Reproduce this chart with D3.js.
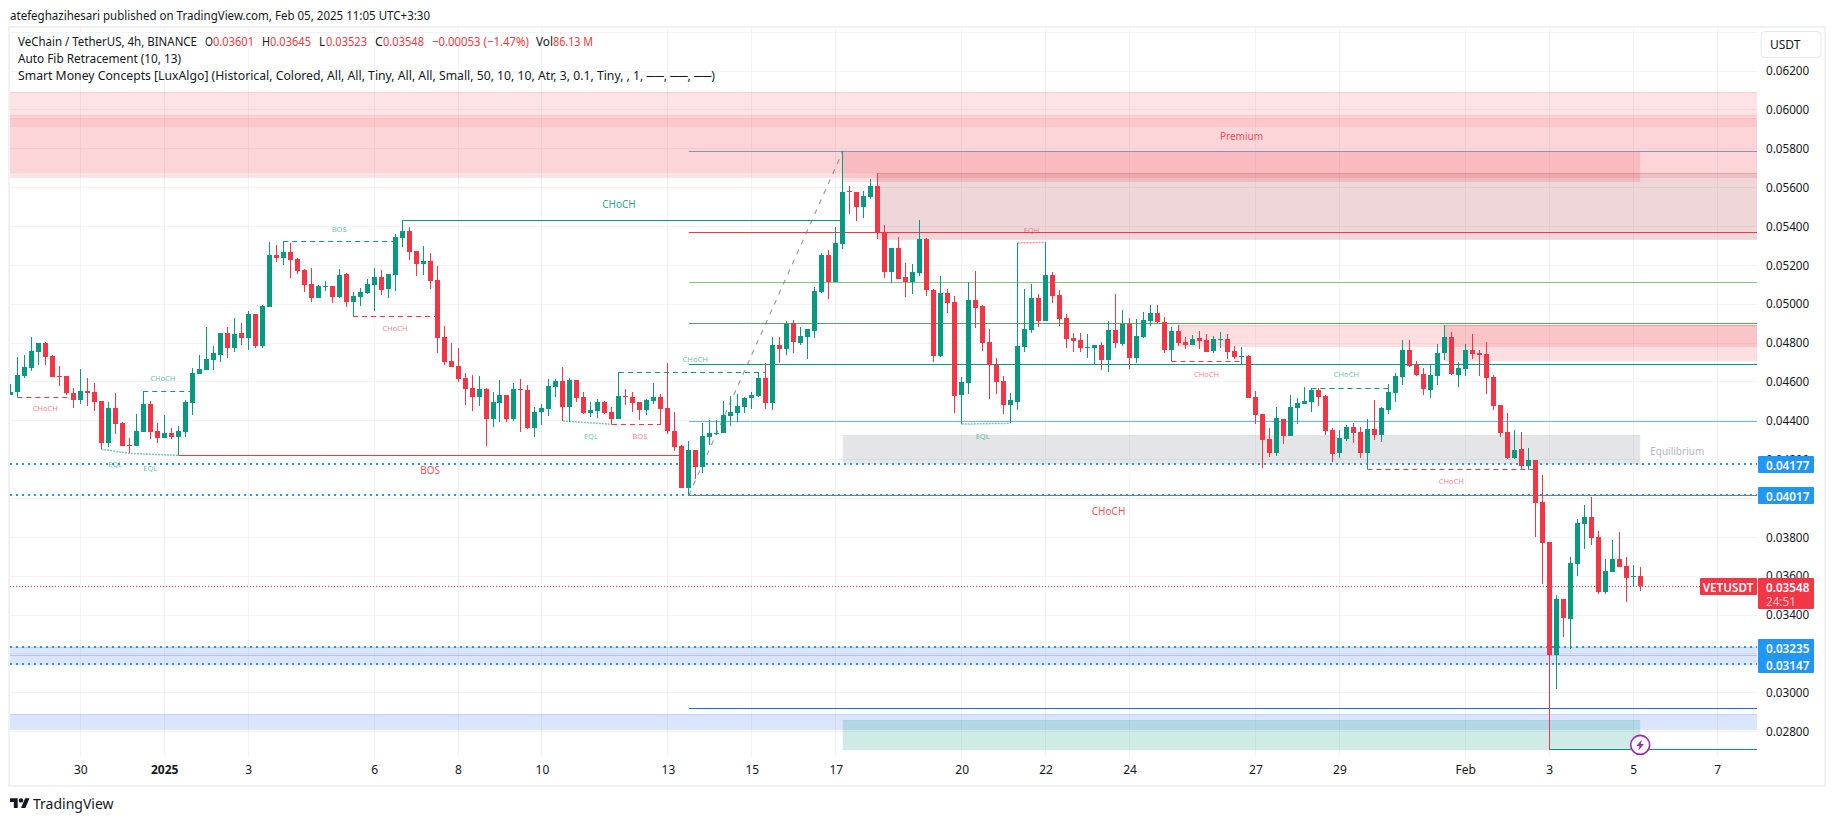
<!DOCTYPE html>
<html><head><meta charset="utf-8">
<script src="https://cdn.jsdelivr.net/npm/d3@7/dist/d3.min.js"></script>
<style>
html,body{margin:0;padding:0;background:#fff;width:1835px;height:821px;overflow:hidden}
svg{display:block}
text{font-family:"Noto Sans",sans-serif}
</style></head><body>
<svg id="c" width="1835" height="821"></svg>
<script>
// All prices in units of 0.00001 USDT
const PRICE_UNIT = 1e-5;
const opens = [
4532,4548,4630,4671,4754,4800,4733,4630,4630,4543,
4507,4553,4548,4501,4285,4465,4388,4275,4270,4342,
4486,4347,4311,4337,4316,4342,4491,4640,4661,4712,
4738,4851,4774,4851,4826,4949,4784,4985,5253,5238,
5268,5232,5176,5104,5032,5090,5094,5037,5155,5011,
5037,5058,5099,5140,5078,5150,5340,5376,5274,5207,
5222,5124,4831,4708,4682,4620,4569,4522,4564,4409,
4492,4533,4409,4564,4558,4363,4445,4461,4574,4605,
4471,4610,4522,4440,4450,4497,4445,4409,4528,4522,
4497,4456,4502,4522,4466,4348,4270,4054,4250,4162,
4317,4334,4337,4425,4440,4471,4517,4527,4620,4491,
4790,4769,4903,4800,4831,4862,5062,5253,5114,5309,
5582,5577,5500,5551,5608,5371,5165,5289,5140,5114,
5160,5335,5073,4733,5057,5011,4533,4594,5021,4990,
4805,4687,4605,4481,4497,4780,4867,5032,4913,5150,
5047,4929,4826,4816,4776,4774,4790,4712,4867,4795,
4898,4723,4831,4913,4954,4908,4764,4862,4805,4790,
4826,4815,4759,4817,4820,4759,4730,4733,4522,4435,
4306,4234,4409,4321,4465,4486,4496,4558,4527,4352,
4234,4306,4368,4342,4234,4357,4327,4455,4543,4625,
4764,4687,4640,4558,4630,4748,4831,4635,4666,4764,
4748,4743,4625,4481,4342,4208,4254,4167,4198,3982,
3776,3195,3483,3380,3663,3869,3905,3802,3519,3622,
3689,3653,3598,3601];
const highs = [
4589,4728,4738,4831,4802,4805,4738,4682,4630,4568,
4666,4620,4594,4501,4496,4543,4393,4311,4435,4551,
4500,4388,4429,4363,4373,4507,4671,4738,4882,4784,
4851,4882,4928,4903,4965,4949,4995,5320,5304,5323,
5315,5238,5181,5186,5099,5119,5094,5181,5160,5063,
5083,5130,5186,5176,5155,5361,5431,5397,5274,5299,
5263,5196,4888,4800,4775,4646,4636,4630,4569,4548,
4610,4533,4594,4615,4584,4471,4486,4615,4615,4677,
4620,4610,4548,4497,4512,4502,4471,4649,4564,4548,
4497,4512,4594,4538,4696,4445,4275,4296,4250,4389,
4404,4404,4502,4527,4538,4522,4548,4651,4696,4831,
4831,4913,4918,4882,4872,5088,5263,5279,5397,5786,
5608,5577,5582,5644,5675,5407,5289,5345,5212,5207,
5433,5340,5078,5145,5078,5042,4625,5114,5171,4996,
4872,4723,4630,4543,5315,5078,5104,5052,5318,5165,
5073,4949,4852,4852,4846,4790,4805,4913,5052,4970,
4928,4923,4959,4995,4995,4934,4882,4892,4831,4841,
4862,4846,4836,4856,4846,4784,4779,4738,4553,4435,
4363,4471,4409,4532,4517,4573,4567,4567,4532,4363,
4352,4378,4388,4368,4409,4507,4471,4589,4646,4815,
4815,4707,4671,4692,4795,4892,4856,4702,4795,4846,
4764,4805,4635,4481,4440,4352,4342,4260,4198,4121,
3776,3504,3483,3699,3895,3967,4008,3833,3689,3787,
3828,3699,3658,3645];
const lows = [
4532,4520,4620,4656,4687,4687,4625,4579,4532,4465,
4486,4476,4450,4254,4265,4332,4270,4232,4270,4342,
4306,4285,4311,4306,4222,4316,4429,4640,4661,4661,
4702,4723,4754,4790,4764,4774,4774,4985,5217,5202,
5135,5155,5063,5011,5032,5068,5006,5032,4985,4937,
4991,5052,4965,5047,5032,5068,5294,5227,5145,5150,
5078,4749,4687,4677,4600,4481,4450,4476,4270,4368,
4394,4394,4399,4342,4358,4317,4378,4425,4522,4399,
4394,4497,4435,4420,4414,4435,4382,4409,4481,4445,
4404,4430,4486,4382,4332,4245,4054,4018,4100,4131,
4275,4327,4337,4373,4394,4440,4460,4524,4460,4455,
4697,4738,4749,4790,4718,4826,5057,5026,5114,5284,
5464,5428,5443,5541,5335,5135,5109,5129,5037,5052,
5145,5042,4702,4728,4954,4440,4383,4538,4877,4759,
4512,4538,4435,4387,4455,4754,4852,4882,4913,5006,
4888,4774,4754,4754,4723,4692,4661,4651,4774,4784,
4666,4697,4826,4887,4898,4748,4706,4784,4769,4790,
4769,4754,4748,4774,4718,4718,4692,4517,4383,4157,
4213,4218,4280,4321,4383,4486,4445,4476,4327,4188,
4208,4296,4285,4208,4150,4301,4291,4435,4496,4584,
4676,4630,4532,4517,4584,4712,4635,4573,4630,4718,
4630,4537,4455,4316,4203,4203,4152,4146,3802,3560,
2706,3020,3288,3226,3601,3740,3761,3509,3509,3622,
3648,3468,3545,3523];
const closes = [
4548,4635,4676,4759,4800,4728,4625,4627,4543,4507,
4553,4543,4496,4285,4465,4383,4270,4272,4347,4486,
4342,4311,4337,4316,4347,4496,4646,4666,4718,4748,
4851,4774,4846,4826,4949,4784,4990,5253,5238,5268,
5227,5171,5099,5032,5094,5094,5037,5150,5011,5042,
5063,5104,5140,5073,5155,5346,5376,5268,5207,5222,
5119,4826,4702,4677,4615,4564,4522,4564,4409,4497,
4533,4409,4564,4560,4363,4445,4466,4579,4605,4471,
4610,4517,4440,4456,4497,4440,4409,4528,4524,4492,
4456,4507,4522,4461,4348,4265,4054,4250,4162,4322,
4337,4337,4430,4445,4476,4517,4533,4620,4491,4790,
4769,4898,4805,4836,4872,5068,5253,5114,5315,5577,
5577,5500,5556,5608,5371,5165,5289,5129,5114,5165,
5335,5073,4733,5057,5006,4527,4600,5021,4980,4800,
4687,4600,4481,4507,4785,4872,5032,4913,5150,5042,
4924,4821,4810,4774,4780,4790,4712,4867,4800,4898,
4723,4836,4918,4954,4908,4764,4862,4800,4790,4820,
4810,4754,4820,4820,4754,4728,4733,4517,4429,4301,
4234,4414,4321,4471,4491,4501,4558,4522,4347,4229,
4311,4368,4337,4234,4357,4327,4465,4548,4630,4764,
4682,4635,4563,4635,4748,4831,4640,4671,4764,4743,
4738,4620,4476,4337,4208,4249,4167,4198,3977,3771,
3195,3483,3385,3668,3874,3905,3797,3519,3627,3689,
3648,3591,3601,3548];

const gridPrices = [6400,6200,6000,5800,5600,5400,5200,5000,4800,4600,4400,4200,4000,3800,3600,3400,3200,3000,2800];
const priceTicks = [6200,6000,5800,5600,5400,5200,5000,4800,4600,4400,4200,4000,3800,3600,3400,3200,3000,2800];
// day of each date tick, counted from 30 Dec (six 4h candles per day, 30 Dec is candle 10)
const timeTickDays = [0,2,4,7,9,11,14,16,18,21,23,25,28,30,33,35,37,39];
const timeTickLabels = ["30","2025","3","6","8","10","13","15","17","20","22","24","27","29","Feb","3","5","7"];
const FIRST_INDEX = -0.05, LAST_INDEX = 249.7;

// zones: [from candle, to candle, upper price, lower price]
const premiumWide = [[FIRST_INDEX,LAST_INDEX,6090,5656]];
const premiumInner = [[FIRST_INDEX,LAST_INDEX,5972,5682],[FIRST_INDEX,LAST_INDEX,5958,5918]];
const supplyZones = [[119,233,5787,5634],[167,LAST_INDEX,4891,4786],[205,LAST_INDEX,4891,4714]];
const darkSupplyZones = [[124,LAST_INDEX,5675,5337]];
const equilibriumZones = [[119,233,4327,4178]];
const discountZones = [[119,233,2860,2706]];
const blueZones = [[FIRST_INDEX,LAST_INDEX,3235,3197],[FIRST_INDEX,LAST_INDEX,3197,3147],[FIRST_INDEX,LAST_INDEX,2892,2815]];
// fib levels [price, kind]
const fibLevels = [[5787,"slate"],[5370,"red"],[5113,"lgreen"],[4902,"green"],[4691,"teal"],[4397,"lblue"],[2920,"blue"],[4017,"grey"]];
const FIB_FROM = 97;
const fibDiagonal = [[97,4017],[119,5786]];
const dottedLevels = [4177,4017,3235,3147];
// structure: [from, to, price, side]
const solidLines = [[56,119,5431,"up"],[24,96,4222,"dn"],[220,LAST_INDEX,2706,"up"]];
const dashedLines = [[39,55,5323,"up"],[49,61,4937,"dn"],[1,9,4520,"dn"],[19,26,4551,"up"],[87,108,4649,"up"],[86,93,4382,"dn"],[166,176,4706,"dn"],[186,197,4567,"up"],[194,218,4150,"dn"]];
const dottedStructure = [[[13,4254],[17,4232],[24,4222],"up"],[[79,4399],[86,4382],[86,4382],"up"],[[136,4383],[143,4387],[143,4387],"up"],[[144,5315],[148,5318],[148,5318],"dn"]];
// text labels [candle, price, text, side, large?]
const structureLabels = [
[87,5516,"CHoCH","up",1],[47,5387,"BOS","up",0],[55,4877,"CHoCH","dn",0],[5,4466,"CHoCH","dn",0],
[21.8,4620,"CHoCH","up",0],[15,4178,"EQL","up",0],[20,4157,"EQL","up",0],[60,4147,"BOS","dn",1],
[83,4323,"EQL","up",0],[90,4323,"BOS","dn",0],[97.9,4718,"CHoCH","up",0],[157,3937,"CHoCH","dn",1],
[146,5382,"EQH","dn",0],[139,4323,"EQL","up",0],[171,4642,"CHoCH","dn",0],[191,4641,"CHoCH","up",0],
[206,4090,"CHoCH","dn",0],[176,5867,"Premium","dn",1]];
const blueTags = [[4177,"0.04177"],[4017,"0.04017"]];
const blueTagPair = [[3235,"0.03235"],[3147,"0.03147"]];
const LAST_PRICE = 3548;

const C = {up:"#089981",dn:"#f23645",grey:"#787b86",slate:"#8694b8",red:"#f23645",lgreen:"#81c784",green:"#4caf50",teal:"#089981",lblue:"#64b5f6",blue:"#2962ff",dot:"#2196f3",grid:"#f2f3f5"};
const L=10,R=1757,T=27,B=757;
const svg=d3.select("#c");
const x=d3.scaleLinear().domain([10,233]).range([80.3,80.3+223*6.995]);
const y=d3.scaleLinear().domain([0.062,0.028]).range([71,731.7]);
const P=v=>y(v*PRICE_UNIT);
const X=i=>x(i);
const cr=v=>Math.round(v)+.5;

svg.append("defs").append("clipPath").attr("id","plot").append("rect").attr("x",L).attr("y",T).attr("width",R-L).attr("height",B-T);
svg.append("rect").attr("x",9).attr("y",27).attr("width",1816).attr("height",759).attr("fill","#fff").attr("stroke","#f0f1f3").attr("stroke-width",2);

const plot=svg.append("g").attr("clip-path","url(#plot)");
const timeIdx=timeTickDays.map(d=>10+6*d);
plot.append("g").selectAll("line").data(gridPrices).join("line").attr("x1",L).attr("x2",R)
 .attr("y1",d=>cr(P(d)-.5)).attr("y2",d=>cr(P(d)-.5)).attr("stroke",C.grid);
plot.append("g").selectAll("line").data(timeIdx).join("line").attr("y1",T).attr("y2",B)
 .attr("x1",d=>cr(X(d)-.5)).attr("x2",d=>cr(X(d)-.5)).attr("stroke",C.grid);

function zones(data,fill,fo,stroke,so){
 plot.append("g").selectAll("rect").data(data).join("rect")
  .attr("x",d=>X(d[0])).attr("width",d=>X(d[1])-X(d[0]))
  .attr("y",d=>Math.round(P(d[2]))).attr("height",d=>Math.round(P(d[3]))-Math.round(P(d[2])))
  .attr("fill",fill).attr("fill-opacity",fo);
 plot.append("g").selectAll("path").data(data).join("path").attr("fill","none").attr("stroke",stroke).attr("stroke-opacity",so)
  .attr("d",d=>`M${X(d[0])},${cr(P(d[2]))}H${X(d[1])}M${X(d[0])},${cr(P(d[3]))}H${X(d[1])}`);
}
zones(premiumWide,C.dn,.14,C.dn,.14);
zones(premiumInner,C.dn,.08,C.dn,.1);
zones(blueZones,"#2962ff",.17,"#2962ff",.14);
zones(supplyZones,C.dn,.16,C.dn,.16);
zones(darkSupplyZones,"#a01020",.17,"#a01020",.14);
zones(equilibriumZones,"#787b86",.2,"#787b86",.03);
zones(discountZones,C.up,.2,C.up,.03);

// fib levels
plot.append("g").selectAll("line").data(fibLevels).join("line").attr("x1",X(FIB_FROM)).attr("x2",R)
 .attr("y1",d=>cr(P(d[0])-.5)).attr("y2",d=>cr(P(d[0])-.5)).attr("stroke",d=>C[d[1]]).attr("stroke-width",1.2);
plot.append("path").attr("d",d3.line(d=>X(d[0]),d=>P(d[1]))(fibDiagonal)).attr("fill","none").attr("stroke","#787b86").attr("stroke-opacity",.75).attr("stroke-dasharray","5 6").attr("stroke-width",1.2);

// blue dotted levels
plot.append("g").selectAll("line").data(dottedLevels).join("line").attr("x1",L).attr("x2",R)
 .attr("y1",d=>Math.round(P(d))).attr("y2",d=>Math.round(P(d))).attr("stroke",C.dot).attr("stroke-width",2).attr("stroke-dasharray","2 4");

// structure lines
plot.append("g").selectAll("line").data(solidLines).join("line").attr("x1",d=>X(d[0])).attr("x2",d=>X(d[1]))
 .attr("y1",d=>cr(P(d[2])-.5)).attr("y2",d=>cr(P(d[2])-.5)).attr("stroke",d=>C[d[3]]).attr("stroke-width",1.2);
plot.append("g").selectAll("line").data(dashedLines).join("line").attr("x1",d=>X(d[0])).attr("x2",d=>X(d[1]))
 .attr("y1",d=>cr(P(d[2])-.5)).attr("y2",d=>cr(P(d[2])-.5)).attr("stroke",d=>C[d[3]]).attr("stroke-width",1.2).attr("stroke-dasharray","5 4");
plot.append("g").selectAll("path").data(dottedStructure).join("path").attr("fill","none")
 .attr("d",d=>d3.line(p=>X(p[0]),p=>P(p[1]))(d.slice(0,3))).attr("stroke",d=>C[d[3]]).attr("stroke-opacity",.55).attr("stroke-width",1.5).attr("stroke-dasharray","2 1");

// last price line
plot.append("line").attr("x1",L).attr("x2",R-57).attr("y1",cr(P(LAST_PRICE)-.5)).attr("y2",cr(P(LAST_PRICE)-.5)).attr("stroke",C.dn).attr("stroke-dasharray","1 2");

// candles
const candles=d3.range(opens.length);
const col=i=>closes[i]>=opens[i]?C.up:C.dn;
const cg=plot.append("g");
cg.selectAll("line").data(candles).join("line").attr("x1",i=>cr(X(i)-.5)).attr("x2",i=>cr(X(i)-.5))
 .attr("y1",i=>Math.round(P(highs[i]))).attr("y2",i=>Math.round(P(lows[i]))).attr("stroke",col);
cg.selectAll("rect").data(candles).join("rect").attr("x",i=>Math.round(X(i)-.5)-2).attr("width",5)
 .attr("y",i=>Math.round(P(Math.max(opens[i],closes[i]))))
 .attr("height",i=>Math.max(1,Math.round(P(Math.min(opens[i],closes[i])))-Math.round(P(Math.max(opens[i],closes[i])))))
 .attr("fill",col);

// labels
plot.append("g").selectAll("text").data(structureLabels).join("text").attr("x",d=>X(d[0])).attr("y",d=>P(d[1]))
 .attr("text-anchor","middle").attr("dominant-baseline","central")
 .attr("font-size",d=>d[4]?10:7.5).attr("fill",d=>C[d[3]]).attr("fill-opacity",d=>d[4]?.9:.65).text(d=>d[2]);
plot.append("text").attr("x",X(238.3)).attr("y",P(4244)).attr("text-anchor","middle").attr("dominant-baseline","central").attr("font-size",10).attr("fill","#b2b5be").text("Equilibrium");

// bolt marker
const bolt=plot.append("g").attr("transform",`translate(${X(233)},${P(2732)})`);
bolt.append("circle").attr("r",9.5).attr("fill","#fff").attr("stroke","#9c27b0").attr("stroke-width",1.6);
bolt.append("path").attr("d","M1.8,-5.5L-3.8,1H-0.6L-1.8,5.5L3.8,-1H0.6Z").attr("fill","#9c27b0");

// axes
const axisFont=11.7;
const yAxis=d3.axisRight(y).tickValues(priceTicks.map(d=>d*PRICE_UNIT)).tickSize(0).tickPadding(9).tickFormat(d3.format(".5f"));
const ya=svg.append("g").attr("transform",`translate(${R},0)`).call(yAxis);
ya.select(".domain").remove();
ya.selectAll("text").attr("font-size",axisFont).attr("font-family",'"Noto Sans",sans-serif').attr("fill","#131722");
const xAxis=d3.axisBottom(x).tickValues(timeIdx).tickSize(0).tickPadding(8).tickFormat((d,i)=>timeTickLabels[i]);
const xa=svg.append("g").attr("transform",`translate(0,${B})`).call(xAxis);
xa.select(".domain").remove();
xa.selectAll("text").attr("font-size",12).attr("font-family",'"Noto Sans",sans-serif').attr("fill","#131722")
 .attr("font-weight",(d,i)=>timeTickLabels[i]==="2025"?700:400);

// USDT button
svg.append("rect").attr("x",1761).attr("y",31.5).attr("width",60).attr("height",26).attr("rx",4).attr("fill","#fff").attr("stroke","#e6e8ec");
svg.append("text").attr("x",1770).attr("y",49).attr("font-size",12).attr("fill","#131722").text("USDT");

// price tags
function tag(x0,y0,w,h,fill){svg.append("rect").attr("x",x0).attr("y",y0).attr("width",w).attr("height",h).attr("fill",fill).attr("rx",1);}
function tagText(tx,ty,t,fill,anchor){svg.append("text").attr("x",tx).attr("y",ty).attr("font-size",axisFont).attr("font-weight",600).attr("fill",fill).attr("text-anchor",anchor||"start").attr("dominant-baseline","central").text(t);}
blueTags.forEach(d=>{const c=Math.round(P(d[0]));tag(R+1,c-8,56,17,C.dot);tagText(R+9,c+.5,d[1],"#fff");});
{const a=Math.round(P(blueTagPair[0][0])),b=Math.round(P(blueTagPair[1][0]));tag(R+1,a-8,56,b-a+17,C.dot);blueTagPair.forEach(d=>tagText(R+9,P(d[0])+.5,d[1],"#fff"));}
{const c=Math.round(P(LAST_PRICE));tag(R-57,c-8,57,17,C.dn);tagText(R-29,c+.5,"VETUSDT","#fff","middle");
 tag(R+1,c-8,56,31,C.dn);tagText(R+9,c+.5,"0.03548","#fff");
 svg.append("text").attr("x",R+9).attr("y",c+14.5).attr("font-size",axisFont).attr("fill","#fcc9ce").attr("dominant-baseline","central").text("24:51");}

// header and legend: widths fixed so the run of text spans the same extent as the reference
const fitted=(sel,w)=>sel.attr("textLength",w).attr("lengthAdjust","spacingAndGlyphs");
fitted(svg.append("text").attr("x",10).attr("y",19.5).attr("font-size",12.5).attr("fill","#131722").text("atefeghazihesari published on TradingView.com, Feb 05, 2025 11:05 UTC+3:30"),420);
const legendRow=[[18,"VeChain / TetherUS, 4h, BINANCE","#131722",179],[205,"O","#131722",8],[213,"0.03601",C.dn,41],[262,"H","#131722",8],[270,"0.03645",C.dn,41],[319,"L","#131722",6],[326,"0.03523",C.dn,41],[375,"C","#131722",8],[383,"0.03548",C.dn,41],[432,"−0.00053 (−1.47%)",C.dn,97],[536,"Vol","#131722",17],[553,"86.13 M",C.dn,40]];
svg.append("g").selectAll("text").data(legendRow).join("text").attr("x",d=>d[0]).attr("y",45.5).attr("font-size",12.5).attr("fill",d=>d[2]).attr("textLength",d=>d[3]).attr("lengthAdjust","spacingAndGlyphs").text(d=>d[1]);
fitted(svg.append("text").attr("x",18).attr("y",63).attr("font-size",12.5).attr("fill","#131722").text("Auto Fib Retracement (10, 13)"),163);
fitted(svg.append("text").attr("x",18).attr("y",80).attr("font-size",12.5).attr("fill","#131722").text("Smart Money Concepts [LuxAlgo] (Historical, Colored, All, All, Tiny, All, All, Small, 50, 10, 10, Atr, 3, 0.1, Tiny, , 1, ──, ──, ──)"),697);

// logo
const logo=svg.append("g").attr("transform","translate(10,796) scale(0.55)").attr("fill","#131722");
logo.append("path").attr("d","M14 22H7V11H0V4h14v18zM28 22h-8l7.5-18h8L28 22z");
logo.append("circle").attr("cx",20).attr("cy",8).attr("r",4);
svg.append("text").attr("x",33).attr("y",809).attr("font-size",14).attr("fill","#131722").text("TradingView");
</script></body></html>
